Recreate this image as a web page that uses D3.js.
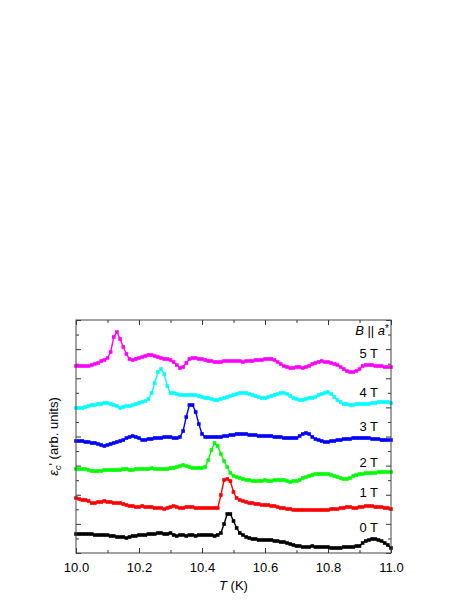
<!DOCTYPE html>
<html>
<head>
<meta charset="utf-8">
<script src="https://cdn.jsdelivr.net/npm/d3@7/dist/d3.min.js"></script>
<style>
  body { margin: 0; background: #fff; }
  text { font-family: "Liberation Sans", Arial, sans-serif; }
</style>
</head>
<body>
<div id="chart"></div>
<script>
// Temperatura (K)
const temps = [
  10.00, 10.01, 10.02, 10.03, 10.04, 10.05, 10.06, 10.07, 10.08, 10.09,
  10.10, 10.11, 10.12, 10.13, 10.14, 10.15, 10.16, 10.17, 10.18, 10.19,
  10.20, 10.21, 10.22, 10.23, 10.24, 10.25, 10.26, 10.27, 10.28, 10.29,
  10.30, 10.31, 10.32, 10.33, 10.34, 10.35, 10.36, 10.37, 10.38, 10.39,
  10.40, 10.41, 10.42, 10.43, 10.44, 10.45, 10.46, 10.47, 10.48, 10.49,
  10.50, 10.51, 10.52, 10.53, 10.54, 10.55, 10.56, 10.57, 10.58, 10.59,
  10.60, 10.61, 10.62, 10.63, 10.64, 10.65, 10.66, 10.67, 10.68, 10.69,
  10.70, 10.71, 10.72, 10.73, 10.74, 10.75, 10.76, 10.77, 10.78, 10.79,
  10.80, 10.81, 10.82, 10.83, 10.84, 10.85, 10.86, 10.87, 10.88, 10.89,
  10.90, 10.91, 10.92, 10.93, 10.94, 10.95, 10.96, 10.97, 10.98, 10.99,
  11.00
];

// eps_c' (arb. units), curvas deslocadas verticalmente
const eps0T = [
  1.9, 1.9, 1.9, 1.9, 1.9, 1.9, 1.8, 1.8, 1.8, 1.8,
  1.8, 1.7, 1.7, 1.6, 1.6, 1.6, 1.5, 1.6, 1.7, 1.7,
  1.8, 1.8, 1.8, 1.9, 1.9, 1.9, 2.0, 2.0, 1.9, 1.9,
  2.0, 1.8, 1.7, 1.8, 1.8, 1.7, 1.8, 1.8, 1.7, 1.8,
  1.8, 1.8, 1.8, 1.8, 1.7, 1.8, 2.0, 2.9, 3.9, 3.9,
  3.2, 2.5, 2.0, 1.8, 1.6, 1.5, 1.4, 1.4, 1.3, 1.3,
  1.3, 1.3, 1.3, 1.2, 1.2, 1.1, 1.1, 1.0, 0.9, 0.8,
  0.7, 0.7, 0.6, 0.6, 0.6, 0.7, 0.6, 0.6, 0.6, 0.6,
  0.6, 0.5, 0.5, 0.5, 0.5, 0.6, 0.6, 0.6, 0.6, 0.7,
  0.7, 1.0, 1.2, 1.3, 1.4, 1.4, 1.3, 1.2, 1.0, 0.8,
  0.5
];
const eps1T = [
  5.5, 5.4, 5.3, 5.3, 5.2, 5.0, 5.0, 5.1, 5.1, 5.2,
  5.1, 5.1, 5.0, 5.0, 5.0, 4.9, 4.8, 4.7, 4.7, 4.6,
  4.6, 4.7, 4.6, 4.6, 4.6, 4.5, 4.5, 4.5, 4.4, 4.5,
  4.6, 4.7, 4.6, 4.5, 4.5, 4.6, 4.6, 4.6, 4.5, 4.5,
  4.5, 4.5, 4.5, 4.5, 4.5, 4.5, 5.8, 7.3, 7.4, 7.2,
  6.1, 5.5, 5.3, 5.2, 5.1, 5.0, 5.0, 4.9, 4.9, 4.8,
  4.8, 4.8, 4.7, 4.7, 4.6, 4.5, 4.5, 4.4, 4.4, 4.3,
  4.3, 4.3, 4.3, 4.3, 4.3, 4.3, 4.3, 4.3, 4.3, 4.3,
  4.3, 4.4, 4.4, 4.4, 4.5, 4.5, 4.6, 4.6, 4.5, 4.5,
  4.6, 4.6, 4.7, 4.7, 4.7, 4.6, 4.6, 4.6, 4.5, 4.5,
  4.4
];
const eps2T = [
  8.4, 8.4, 8.4, 8.4, 8.3, 8.2, 8.2, 8.2, 8.2, 8.3,
  8.3, 8.3, 8.3, 8.3, 8.3, 8.4, 8.4, 8.3, 8.3, 8.4,
  8.4, 8.4, 8.4, 8.4, 8.5, 8.4, 8.4, 8.4, 8.4, 8.4,
  8.5, 8.5, 8.6, 8.7, 8.8, 8.7, 8.6, 8.5, 8.5, 8.5,
  8.5, 8.6, 9.3, 10.3, 11.0, 10.7, 9.9, 9.2, 8.6, 8.0,
  7.7, 7.6, 7.5, 7.4, 7.3, 7.3, 7.2, 7.2, 7.2, 7.2,
  7.3, 7.2, 7.2, 7.3, 7.3, 7.3, 7.3, 7.2, 7.1, 7.2,
  7.2, 7.3, 7.5, 7.6, 7.7, 7.8, 7.9, 7.9, 7.9, 7.9,
  7.9, 7.8, 7.7, 7.6, 7.5, 7.4, 7.4, 7.5, 7.7, 7.8,
  7.9, 7.9, 8.0, 8.0, 8.0, 8.0, 8.1, 8.1, 8.1, 8.1,
  8.1
];
const eps3T = [
  11.2, 11.2, 11.2, 11.1, 11.1, 11.0, 11.0, 10.9, 10.8, 10.7,
  10.8, 10.9, 11.0, 11.1, 11.2, 11.3, 11.5, 11.6, 11.7, 11.6,
  11.5, 11.3, 11.3, 11.4, 11.4, 11.5, 11.5, 11.5, 11.6, 11.6,
  11.6, 11.5, 11.5, 11.6, 12.2, 13.6, 14.8, 14.8, 14.1, 12.9,
  11.9, 11.6, 11.6, 11.6, 11.6, 11.6, 11.6, 11.7, 11.7, 11.8,
  11.8, 11.9, 11.9, 11.9, 11.9, 11.8, 11.8, 11.8, 11.7, 11.7,
  11.7, 11.7, 11.7, 11.6, 11.6, 11.6, 11.5, 11.5, 11.5, 11.5,
  11.5, 11.7, 11.9, 12.0, 11.9, 11.6, 11.4, 11.3, 11.2, 11.1,
  11.1, 11.2, 11.2, 11.3, 11.3, 11.4, 11.4, 11.4, 11.5, 11.5,
  11.5, 11.5, 11.5, 11.5, 11.4, 11.4, 11.4, 11.3, 11.3, 11.3,
  11.3
];
const eps4T = [
  14.5, 14.5, 14.5, 14.6, 14.7, 14.8, 14.8, 14.9, 14.9, 15.0,
  15.0, 14.9, 14.8, 14.7, 14.5, 14.6, 14.7, 14.7, 14.8, 14.9,
  15.0, 15.1, 15.2, 15.4, 16.0, 17.0, 18.1, 18.4, 17.9, 16.7,
  16.0, 16.0, 15.9, 15.8, 15.8, 15.8, 15.8, 15.8, 15.8, 15.7,
  15.6, 15.5, 15.5, 15.4, 15.3, 15.3, 15.4, 15.5, 15.6, 15.7,
  15.8, 15.9, 16.0, 16.0, 16.0, 15.9, 15.8, 15.7, 15.6, 15.5,
  15.5, 15.6, 15.7, 15.8, 15.9, 16.0, 16.0, 15.9, 15.7, 15.5,
  15.4, 15.3, 15.3, 15.4, 15.5, 15.5, 15.6, 15.8, 15.9, 16.0,
  16.1, 15.9, 15.6, 15.3, 15.1, 14.9, 14.9, 14.8, 14.8, 14.9,
  14.9, 14.9, 14.9, 14.9, 15.0, 15.0, 15.1, 15.1, 15.1, 15.1,
  15.0
];
const eps5T = [
  18.7, 18.7, 18.7, 18.7, 18.7, 18.8, 18.9, 19.0, 19.2, 19.3,
  19.5, 20.1, 21.6, 22.1, 21.4, 20.6, 19.9, 19.4, 19.3, 19.4,
  19.5, 19.6, 19.7, 19.8, 19.8, 19.7, 19.6, 19.5, 19.4, 19.4,
  19.3, 19.1, 18.8, 18.5, 18.6, 19.0, 19.4, 19.5, 19.5, 19.4,
  19.4, 19.3, 19.2, 19.2, 19.1, 19.1, 19.1, 19.2, 19.2, 19.2,
  19.2, 19.2, 19.2, 19.1, 19.2, 19.2, 19.2, 19.3, 19.3, 19.3,
  19.4, 19.4, 19.4, 19.3, 19.1, 18.9, 18.7, 18.6, 18.5, 18.5,
  18.6, 18.6, 18.5, 18.6, 18.7, 18.9, 19.0, 19.1, 19.2, 19.1,
  19.1, 19.0, 18.9, 18.8, 18.6, 18.4, 18.2, 18.1, 18.1, 18.2,
  18.4, 18.7, 18.8, 18.8, 18.8, 18.7, 18.7, 18.7, 18.6, 18.6,
  18.6
];

const fieldLabels = ["0 T", "1 T", "2 T", "3 T", "4 T", "5 T"];
const seriesColors = ["#000000", "#ff0000", "#00ff00", "#0000ff", "#00ffff", "#ff00ff"];
const xTickValues = [10.0, 10.2, 10.4, 10.6, 10.8, 11.0];
const xMinorValues = [10.1, 10.3, 10.5, 10.7, 10.9];

// Layout
const width = 469, height = 607;
const plot = { left: 76, right: 391, top: 320, bottom: 553 };
const yMax = 23.3;
const labelBaselines = [532, 497, 467, 431, 397, 358]; // y das etiquetas de campo
const fontSize = 13;

const allSeries = [eps0T, eps1T, eps2T, eps3T, eps4T, eps5T];

const svg = d3.select("#chart")
  .append("svg")
  .attr("width", width)
  .attr("height", height);

const xScale = d3.scaleLinear().domain([10, 11]).range([plot.left, plot.right]);
const yScale = d3.scaleLinear().domain([0, yMax]).range([plot.bottom, plot.top]);

const yMajor = d3.range(0, 17, 2).map(i => i * yMax / 16);
const yMinor = d3.range(1, 17, 2).map(i => i * yMax / 16);

// Eixos (ticks para dentro)
function drawAxis(axis, transform, labels) {
  const g = svg.append("g").attr("transform", transform).call(axis);
  g.select(".domain").remove();
  g.selectAll(".tick line").attr("stroke", "#333");
  if (labels) {
    g.selectAll(".tick text")
      .style("font-family", '"Liberation Sans", Arial, sans-serif')
      .style("font-size", fontSize + "px")
      .attr("fill", "#000");
  } else {
    g.selectAll(".tick text").remove();
  }
  return g;
}

const fmt = d3.format(".1f");
drawAxis(d3.axisBottom(xScale).tickValues(xTickValues).tickSizeInner(-5).tickSizeOuter(0).tickPadding(10).tickFormat(fmt),
  `translate(0,${plot.bottom})`, true);
drawAxis(d3.axisBottom(xScale).tickValues(xMinorValues).tickSizeInner(-3).tickSizeOuter(0),
  `translate(0,${plot.bottom})`, false);
drawAxis(d3.axisTop(xScale).tickValues(xTickValues).tickSizeInner(-5).tickSizeOuter(0),
  `translate(0,${plot.top})`, false);
drawAxis(d3.axisTop(xScale).tickValues(xMinorValues).tickSizeInner(-3).tickSizeOuter(0),
  `translate(0,${plot.top})`, false);
drawAxis(d3.axisLeft(yScale).tickValues(yMajor).tickSizeInner(-5).tickSizeOuter(0),
  `translate(${plot.left},0)`, false);
drawAxis(d3.axisLeft(yScale).tickValues(yMinor).tickSizeInner(-3).tickSizeOuter(0),
  `translate(${plot.left},0)`, false);
drawAxis(d3.axisRight(yScale).tickValues(yMajor).tickSizeInner(-5).tickSizeOuter(0),
  `translate(${plot.right},0)`, false);
drawAxis(d3.axisRight(yScale).tickValues(yMinor).tickSizeInner(-3).tickSizeOuter(0),
  `translate(${plot.right},0)`, false);

// Curvas
const line = d3.line()
  .x((d, i) => xScale(temps[i]))
  .y(d => yScale(d));

const curves = svg.append("g");
allSeries.forEach((values, k) => {
  curves.append("path")
    .datum(values)
    .attr("fill", "none")
    .attr("stroke", seriesColors[k])
    .attr("stroke-width", 1.4)
    .attr("d", line);

  curves.selectAll(null)
    .data(values)
    .enter()
    .append("rect")
    .attr("x", (d, i) => xScale(temps[i]) - 1.8)
    .attr("y", d => yScale(d) - 1.8)
    .attr("width", 3.6)
    .attr("height", 3.6)
    .attr("fill", seriesColors[k]);
});

// Moldura
svg.append("rect")
  .attr("x", plot.left)
  .attr("y", plot.top)
  .attr("width", plot.right - plot.left)
  .attr("height", plot.bottom - plot.top)
  .attr("fill", "none")
  .attr("stroke", "#444")
  .attr("stroke-width", 1);

// Etiquetas dos campos
fieldLabels.forEach((lab, k) => {
  svg.append("text")
    .attr("x", 378)
    .attr("y", labelBaselines[k])
    .attr("text-anchor", "end")
    .style("font-size", fontSize + "px")
    .text(lab);
});

const bLabel = svg.append("text")
  .attr("x", 389)
  .attr("y", 335)
  .attr("text-anchor", "end")
  .style("font-size", fontSize + "px");
bLabel.append("tspan").style("font-style", "italic").text("B");
bLabel.append("tspan").text(" || ");
bLabel.append("tspan").style("font-style", "italic").text("a");
bLabel.append("tspan").attr("dy", -3).style("font-size", "10px").text("*");

// Título do eixo X
const xTitle = svg.append("text")
  .attr("x", (plot.left + plot.right) / 2)
  .attr("y", 590)
  .attr("text-anchor", "middle")
  .style("font-size", fontSize + "px");
xTitle.append("tspan").style("font-style", "italic").text("T");
xTitle.append("tspan").text(" (K)");

// Título do eixo Y
const yTitle = svg.append("text")
  .attr("transform", `translate(58,${(plot.top + plot.bottom) / 2}) rotate(-90)`)
  .attr("text-anchor", "middle")
  .style("font-size", fontSize + "px");
yTitle.append("tspan").style("font-style", "italic").text("ε");
yTitle.append("tspan").attr("dy", 3).style("font-size", "9px").style("font-style", "italic").text("c");
yTitle.append("tspan").attr("dy", -3).text("' (arb. units)");
</script>
</body>
</html>
